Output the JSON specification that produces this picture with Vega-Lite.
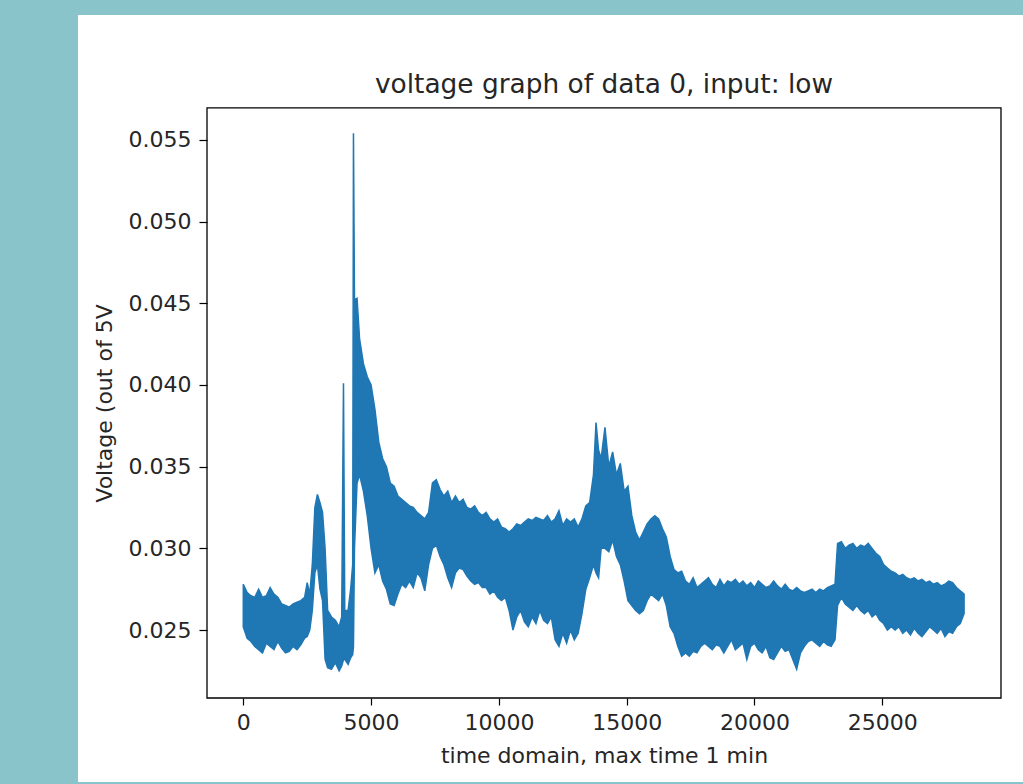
{
  "$schema": "https://vega.github.io/schema/vega-lite/v6.json",
  "width": 945,
  "height": 767,
  "autosize": {"type": "none"},
  "padding": {"left": 78, "top": 15, "right": 0, "bottom": 2},
  "background": "#89c4cb",
  "config": {
    "view": {"fill": "white", "stroke": null},
    "font": "DejaVu Sans"
  },
  "title": {
    "text": "voltage graph of data 0, input: low",
    "font": "DejaVu Sans",
    "fontSize": 26.4,
    "fontWeight": "normal",
    "color": "#262626",
    "anchor": "middle",
    "frame": "group",
    "baseline": "alphabetic",
    "offset": 0,
    "dx": 53.5,
    "dy": 104
  },
  "layer": [
    {
      "data": {
        "values": [
          {"t": 0, "lo": 0.0252, "hi": 0.0278},
          {"t": 150, "lo": 0.0245, "hi": 0.0273},
          {"t": 300, "lo": 0.0243, "hi": 0.0271},
          {"t": 450, "lo": 0.0240, "hi": 0.0270},
          {"t": 600, "lo": 0.0238, "hi": 0.0275},
          {"t": 750, "lo": 0.0236, "hi": 0.0270},
          {"t": 900, "lo": 0.0242, "hi": 0.0271},
          {"t": 1050, "lo": 0.0240, "hi": 0.0276},
          {"t": 1200, "lo": 0.0238, "hi": 0.0272},
          {"t": 1350, "lo": 0.0243, "hi": 0.0270},
          {"t": 1500, "lo": 0.0239, "hi": 0.0266},
          {"t": 1650, "lo": 0.0236, "hi": 0.0265},
          {"t": 1800, "lo": 0.0237, "hi": 0.0264},
          {"t": 1950, "lo": 0.0240, "hi": 0.0266},
          {"t": 2100, "lo": 0.0238, "hi": 0.0267},
          {"t": 2250, "lo": 0.0241, "hi": 0.0268},
          {"t": 2400, "lo": 0.0245, "hi": 0.0270},
          {"t": 2500, "lo": 0.0246, "hi": 0.0279},
          {"t": 2600, "lo": 0.0250, "hi": 0.0272},
          {"t": 2700, "lo": 0.0262, "hi": 0.0290},
          {"t": 2800, "lo": 0.0285, "hi": 0.0325},
          {"t": 2900, "lo": 0.0290, "hi": 0.0333},
          {"t": 3000, "lo": 0.0275, "hi": 0.0328},
          {"t": 3100, "lo": 0.0268, "hi": 0.0322},
          {"t": 3200, "lo": 0.0232, "hi": 0.0300},
          {"t": 3300, "lo": 0.0227, "hi": 0.0262},
          {"t": 3450, "lo": 0.0226, "hi": 0.0258},
          {"t": 3600, "lo": 0.0230, "hi": 0.0256},
          {"t": 3750, "lo": 0.0225, "hi": 0.0252},
          {"t": 3850, "lo": 0.0228, "hi": 0.0258},
          {"t": 3920, "lo": 0.0232, "hi": 0.0401},
          {"t": 3970, "lo": 0.0232, "hi": 0.0262},
          {"t": 4100, "lo": 0.0229, "hi": 0.0262},
          {"t": 4200, "lo": 0.0233, "hi": 0.0275},
          {"t": 4280, "lo": 0.0235, "hi": 0.0290},
          {"t": 4310, "lo": 0.0240, "hi": 0.0554},
          {"t": 4350, "lo": 0.0300, "hi": 0.0452},
          {"t": 4450, "lo": 0.0340, "hi": 0.0453},
          {"t": 4550, "lo": 0.0345, "hi": 0.0428},
          {"t": 4700, "lo": 0.0335, "hi": 0.0413},
          {"t": 4850, "lo": 0.0320, "hi": 0.0405},
          {"t": 5000, "lo": 0.0300, "hi": 0.0400},
          {"t": 5150, "lo": 0.0285, "hi": 0.0385},
          {"t": 5300, "lo": 0.0290, "hi": 0.0365},
          {"t": 5450, "lo": 0.0280, "hi": 0.0355},
          {"t": 5600, "lo": 0.0275, "hi": 0.0350},
          {"t": 5750, "lo": 0.0266, "hi": 0.0340},
          {"t": 5900, "lo": 0.0265, "hi": 0.0338},
          {"t": 6050, "lo": 0.0272, "hi": 0.0332},
          {"t": 6200, "lo": 0.0278, "hi": 0.0330},
          {"t": 6350, "lo": 0.0276, "hi": 0.0328},
          {"t": 6500, "lo": 0.0280, "hi": 0.0326},
          {"t": 6650, "lo": 0.0276, "hi": 0.0325},
          {"t": 6800, "lo": 0.0285, "hi": 0.0322},
          {"t": 6950, "lo": 0.0282, "hi": 0.0320},
          {"t": 7100, "lo": 0.0274, "hi": 0.0318},
          {"t": 7250, "lo": 0.0290, "hi": 0.0322},
          {"t": 7400, "lo": 0.0300, "hi": 0.0340},
          {"t": 7550, "lo": 0.0302, "hi": 0.0342},
          {"t": 7700, "lo": 0.0295, "hi": 0.0336},
          {"t": 7850, "lo": 0.0290, "hi": 0.0332},
          {"t": 8000, "lo": 0.0282, "hi": 0.0335},
          {"t": 8150, "lo": 0.0276, "hi": 0.0328},
          {"t": 8300, "lo": 0.0285, "hi": 0.0332},
          {"t": 8450, "lo": 0.0288, "hi": 0.0328},
          {"t": 8600, "lo": 0.0287, "hi": 0.0330},
          {"t": 8750, "lo": 0.0283, "hi": 0.0325},
          {"t": 8900, "lo": 0.0280, "hi": 0.0324},
          {"t": 9050, "lo": 0.0278, "hi": 0.0326},
          {"t": 9200, "lo": 0.0279, "hi": 0.0322},
          {"t": 9350, "lo": 0.0276, "hi": 0.0320},
          {"t": 9500, "lo": 0.0276, "hi": 0.0322},
          {"t": 9650, "lo": 0.0272, "hi": 0.0318},
          {"t": 9800, "lo": 0.0274, "hi": 0.0316},
          {"t": 9950, "lo": 0.0270, "hi": 0.0318},
          {"t": 10100, "lo": 0.0268, "hi": 0.0313},
          {"t": 10250, "lo": 0.0270, "hi": 0.0312},
          {"t": 10400, "lo": 0.0262, "hi": 0.0310},
          {"t": 10550, "lo": 0.0250, "hi": 0.0312},
          {"t": 10700, "lo": 0.0258, "hi": 0.0315},
          {"t": 10850, "lo": 0.0262, "hi": 0.0314},
          {"t": 11000, "lo": 0.0255, "hi": 0.0316},
          {"t": 11150, "lo": 0.0252, "hi": 0.0318},
          {"t": 11300, "lo": 0.0258, "hi": 0.0317},
          {"t": 11450, "lo": 0.0254, "hi": 0.0319},
          {"t": 11600, "lo": 0.0262, "hi": 0.0318},
          {"t": 11750, "lo": 0.0256, "hi": 0.0317},
          {"t": 11900, "lo": 0.0254, "hi": 0.0320},
          {"t": 12050, "lo": 0.0258, "hi": 0.0316},
          {"t": 12200, "lo": 0.0244, "hi": 0.0318},
          {"t": 12350, "lo": 0.0240, "hi": 0.0323},
          {"t": 12500, "lo": 0.0248, "hi": 0.0314},
          {"t": 12650, "lo": 0.0242, "hi": 0.0318},
          {"t": 12800, "lo": 0.0250, "hi": 0.0316},
          {"t": 12950, "lo": 0.0244, "hi": 0.0318},
          {"t": 13100, "lo": 0.0248, "hi": 0.0313},
          {"t": 13250, "lo": 0.0260, "hi": 0.0318},
          {"t": 13400, "lo": 0.0275, "hi": 0.0326},
          {"t": 13550, "lo": 0.0282, "hi": 0.0328},
          {"t": 13700, "lo": 0.0290, "hi": 0.0345},
          {"t": 13800, "lo": 0.0285, "hi": 0.0377},
          {"t": 13900, "lo": 0.0282, "hi": 0.0360},
          {"t": 14000, "lo": 0.0300, "hi": 0.0355},
          {"t": 14150, "lo": 0.0300, "hi": 0.0374},
          {"t": 14300, "lo": 0.0298, "hi": 0.0350},
          {"t": 14450, "lo": 0.0305, "hi": 0.0359},
          {"t": 14600, "lo": 0.0295, "hi": 0.0345},
          {"t": 14750, "lo": 0.0290, "hi": 0.0352},
          {"t": 14900, "lo": 0.0280, "hi": 0.0335},
          {"t": 15050, "lo": 0.0268, "hi": 0.0338},
          {"t": 15200, "lo": 0.0265, "hi": 0.0320},
          {"t": 15350, "lo": 0.0262, "hi": 0.0310},
          {"t": 15500, "lo": 0.0260, "hi": 0.0305},
          {"t": 15650, "lo": 0.0262, "hi": 0.0310},
          {"t": 15800, "lo": 0.0268, "hi": 0.0315},
          {"t": 15950, "lo": 0.0272, "hi": 0.0318},
          {"t": 16100, "lo": 0.0270, "hi": 0.0320},
          {"t": 16250, "lo": 0.0268, "hi": 0.0318},
          {"t": 16400, "lo": 0.0272, "hi": 0.0312},
          {"t": 16550, "lo": 0.0265, "hi": 0.0307},
          {"t": 16700, "lo": 0.0252, "hi": 0.0295},
          {"t": 16850, "lo": 0.0248, "hi": 0.0287},
          {"t": 17000, "lo": 0.0240, "hi": 0.0285},
          {"t": 17150, "lo": 0.0234, "hi": 0.0286},
          {"t": 17300, "lo": 0.0236, "hi": 0.0280},
          {"t": 17450, "lo": 0.0234, "hi": 0.0278},
          {"t": 17600, "lo": 0.0237, "hi": 0.0282},
          {"t": 17750, "lo": 0.0236, "hi": 0.0276},
          {"t": 17900, "lo": 0.0240, "hi": 0.0278},
          {"t": 18050, "lo": 0.0242, "hi": 0.0280},
          {"t": 18200, "lo": 0.0240, "hi": 0.0282},
          {"t": 18350, "lo": 0.0238, "hi": 0.0278},
          {"t": 18500, "lo": 0.0241, "hi": 0.0276},
          {"t": 18650, "lo": 0.0240, "hi": 0.0281},
          {"t": 18800, "lo": 0.0236, "hi": 0.0277},
          {"t": 18950, "lo": 0.0240, "hi": 0.0280},
          {"t": 19100, "lo": 0.0244, "hi": 0.0279},
          {"t": 19250, "lo": 0.0238, "hi": 0.0281},
          {"t": 19400, "lo": 0.0240, "hi": 0.0278},
          {"t": 19550, "lo": 0.0242, "hi": 0.0280},
          {"t": 19700, "lo": 0.0232, "hi": 0.0277},
          {"t": 19850, "lo": 0.0240, "hi": 0.0279},
          {"t": 20000, "lo": 0.0242, "hi": 0.0276},
          {"t": 20150, "lo": 0.0238, "hi": 0.0280},
          {"t": 20300, "lo": 0.0236, "hi": 0.0278},
          {"t": 20450, "lo": 0.0240, "hi": 0.0276},
          {"t": 20600, "lo": 0.0233, "hi": 0.0277},
          {"t": 20750, "lo": 0.0232, "hi": 0.0280},
          {"t": 20900, "lo": 0.0236, "hi": 0.0277},
          {"t": 21050, "lo": 0.0240, "hi": 0.0275},
          {"t": 21200, "lo": 0.0237, "hi": 0.0278},
          {"t": 21350, "lo": 0.0238, "hi": 0.0275},
          {"t": 21500, "lo": 0.0232, "hi": 0.0274},
          {"t": 21650, "lo": 0.0226, "hi": 0.0276},
          {"t": 21800, "lo": 0.0236, "hi": 0.0274},
          {"t": 21950, "lo": 0.0240, "hi": 0.0273},
          {"t": 22100, "lo": 0.0243, "hi": 0.0274},
          {"t": 22250, "lo": 0.0244, "hi": 0.0275},
          {"t": 22400, "lo": 0.0242, "hi": 0.0273},
          {"t": 22550, "lo": 0.0240, "hi": 0.0275},
          {"t": 22700, "lo": 0.0243, "hi": 0.0274},
          {"t": 22850, "lo": 0.0241, "hi": 0.0276},
          {"t": 23000, "lo": 0.0240, "hi": 0.0277},
          {"t": 23150, "lo": 0.0244, "hi": 0.0278},
          {"t": 23250, "lo": 0.0265, "hi": 0.0303},
          {"t": 23400, "lo": 0.0270, "hi": 0.0304},
          {"t": 23550, "lo": 0.0266, "hi": 0.0300},
          {"t": 23700, "lo": 0.0264, "hi": 0.0302},
          {"t": 23850, "lo": 0.0262, "hi": 0.0303},
          {"t": 24000, "lo": 0.0265, "hi": 0.0300},
          {"t": 24150, "lo": 0.0262, "hi": 0.0302},
          {"t": 24300, "lo": 0.0260, "hi": 0.0301},
          {"t": 24450, "lo": 0.0262, "hi": 0.0303},
          {"t": 24600, "lo": 0.0258, "hi": 0.0300},
          {"t": 24750, "lo": 0.0260, "hi": 0.0297},
          {"t": 24900, "lo": 0.0256, "hi": 0.0295},
          {"t": 25050, "lo": 0.0254, "hi": 0.0290},
          {"t": 25200, "lo": 0.0250, "hi": 0.0288},
          {"t": 25350, "lo": 0.0252, "hi": 0.0286},
          {"t": 25500, "lo": 0.0250, "hi": 0.0285},
          {"t": 25650, "lo": 0.0252, "hi": 0.0283},
          {"t": 25800, "lo": 0.0248, "hi": 0.0284},
          {"t": 25950, "lo": 0.0250, "hi": 0.0282},
          {"t": 26100, "lo": 0.0247, "hi": 0.0281},
          {"t": 26250, "lo": 0.0251, "hi": 0.0282},
          {"t": 26400, "lo": 0.0248, "hi": 0.0280},
          {"t": 26550, "lo": 0.0246, "hi": 0.0281},
          {"t": 26700, "lo": 0.0249, "hi": 0.0279},
          {"t": 26850, "lo": 0.0252, "hi": 0.0280},
          {"t": 27000, "lo": 0.0250, "hi": 0.0278},
          {"t": 27150, "lo": 0.0248, "hi": 0.0279},
          {"t": 27300, "lo": 0.0251, "hi": 0.0277},
          {"t": 27450, "lo": 0.0246, "hi": 0.0278},
          {"t": 27600, "lo": 0.0249, "hi": 0.0280},
          {"t": 27750, "lo": 0.0248, "hi": 0.0279},
          {"t": 27900, "lo": 0.0252, "hi": 0.0276},
          {"t": 28050, "lo": 0.0254, "hi": 0.0274},
          {"t": 28200, "lo": 0.0260, "hi": 0.0272}
        ]
      },
      "mark": {"type": "area", "color": "#1f77b4", "stroke": "#1f77b4", "strokeWidth": 1.5, "interpolate": "linear"},
      "encoding": {
        "x": {
          "field": "t",
          "type": "quantitative",
          "scale": {"domain": [-6467, 30505], "nice": false, "zero": false},
          "axis": {
            "values": [0, 5000, 10000, 15000, 20000, 25000],
            "format": "d",
            "offset": -84,
            "domain": false,
            "grid": false,
            "ticks": true,
            "tickSize": 7,
            "tickWidth": 1.2,
            "tickColor": "#000000",
            "labelPadding": 7,
            "labelFont": "DejaVu Sans",
            "labelFontSize": 22,
            "labelColor": "#262626",
            "labelFlush": false,
            "labelOverlap": false,
            "labelBound": false,
            "title": "time domain, max time 1 min",
            "titleFont": "DejaVu Sans",
            "titleFontSize": 22,
            "titleFontWeight": "normal",
            "titleColor": "#262626",
            "titleX": 526,
            "titleY": 64,
            "titleAlign": "center",
            "titleBaseline": "alphabetic"
          }
        },
        "y": {
          "field": "hi",
          "type": "quantitative",
          "scale": {"domain": [0.0157, 0.06264], "nice": false, "zero": false},
          "axis": {
            "values": [0.025, 0.03, 0.035, 0.04, 0.045, 0.05, 0.055],
            "format": ".3f",
            "offset": -129,
            "domain": false,
            "grid": false,
            "tickSize": 8,
            "tickWidth": 1.2,
            "tickColor": "#000000",
            "labelPadding": 8,
            "labelFont": "DejaVu Sans",
            "labelFontSize": 22,
            "labelColor": "#262626",
            "labelFlush": false,
            "labelOverlap": false,
            "labelBound": false,
            "title": "Voltage (out of 5V",
            "titleFont": "DejaVu Sans",
            "titleFontSize": 22,
            "titleFontWeight": "normal",
            "titleColor": "#262626",
            "titleX": -96,
            "titleY": 388,
            "titleAngle": -90,
            "titleAlign": "center",
            "titleBaseline": "alphabetic"
          }
        },
        "y2": {"field": "lo"}
      }
    },
    {
      "data": {"values": [{"x0": -1420, "x1": 29644, "y0": 0.02084, "y1": 0.05695}]},
      "mark": {"type": "rect", "fill": null, "fillOpacity": 0, "stroke": "#000000", "strokeWidth": 1.3},
      "encoding": {
        "x": {"field": "x0", "type": "quantitative", "scale": {"domain": [-6467, 30505], "nice": false, "zero": false}},
        "x2": {"field": "x1"},
        "y": {"field": "y0", "type": "quantitative", "scale": {"domain": [0.0157, 0.06264], "nice": false, "zero": false}},
        "y2": {"field": "y1"}
      }
    }
  ]
}
